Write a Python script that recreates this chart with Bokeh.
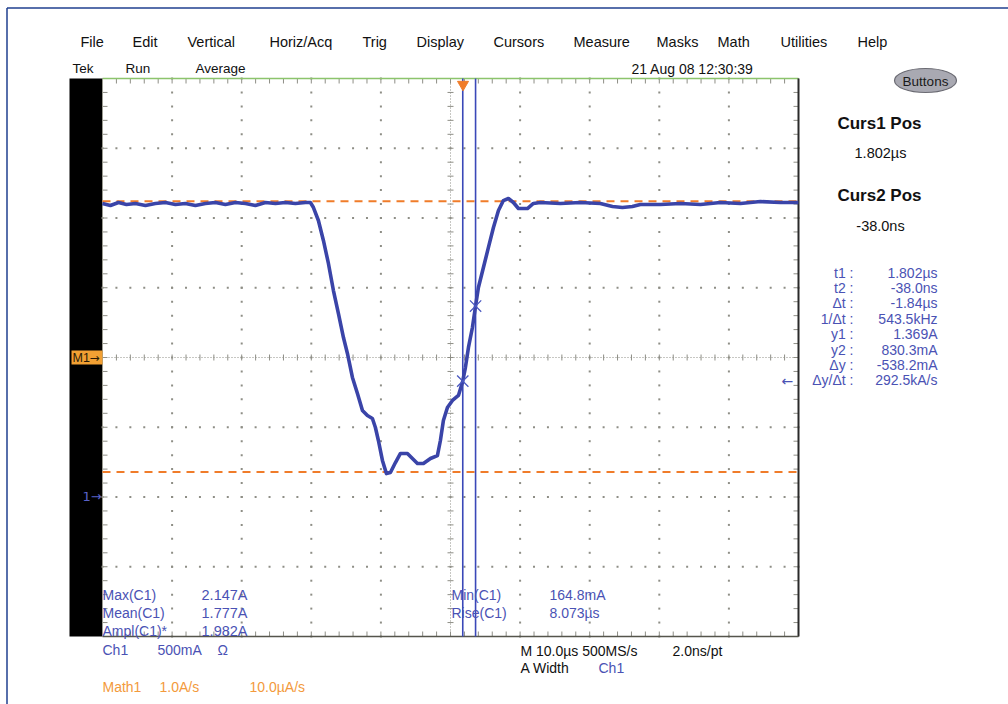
import numpy as np
from bokeh.plotting import figure
from bokeh.models import Range1d
from bokeh.core.properties import value
from bokeh.embed import file_html
from bokeh.resources import INLINE

# ---------------- data ----------------
# waveform: time in microseconds, current in amperes
T_US = [-51.81, -50.66, -49.51, -48.36, -47.07, -45.63, -44.20, -42.76, -41.32, -39.89,
        -38.45, -37.01, -35.57, -34.14, -32.70, -31.26, -29.83, -28.39, -26.95, -25.52,
        -24.08, -22.64, -21.93,
        -21.49, -20.78, -20.06, -19.34, -18.62, -17.90, -17.18, -16.61, -15.89, -15.17,
        -14.45, -13.74, -13.02, -12.59, -12.16, -11.58, -11.01, -10.43, -9.71, -8.99,
        -7.99, -7.27, -6.55, -5.69, -4.68, -3.68, -3.25, -2.82, -2.24, -1.52,
        -0.66, -0.04, 0.34, 0.78, 1.35, 1.80, 2.21, 2.93, 3.65, 4.37,
        5.09, 5.80, 6.52, 7.24, 7.96, 9.25, 10.11, 11.12,
        13.99, 16.86, 19.74, 21.47, 22.90, 24.34, 25.49, 28.36, 31.24, 34.11,
        36.99, 39.86, 42.73, 45.61, 48.19]
I_A = [2.104, 2.090, 2.111, 2.097, 2.104, 2.090, 2.104, 2.111, 2.097, 2.104,
       2.090, 2.104, 2.111, 2.097, 2.111, 2.104, 2.090, 2.111, 2.104, 2.111,
       2.104, 2.111, 2.111,
       2.075, 1.982, 1.839, 1.674, 1.480, 1.315, 1.143, 1.029, 0.857, 0.742,
       0.620, 0.584, 0.563, 0.498, 0.405, 0.262, 0.168, 0.176, 0.247, 0.312,
       0.312, 0.276, 0.240, 0.240, 0.276, 0.297, 0.405, 0.548, 0.642, 0.692,
       0.728, 0.830, 0.928, 1.072, 1.215, 1.369, 1.502, 1.645, 1.789, 1.932,
       2.054, 2.125, 2.140, 2.111, 2.068, 2.068, 2.104, 2.111,
       2.104, 2.111, 2.104, 2.082, 2.075, 2.082, 2.097, 2.097, 2.104, 2.097,
       2.111, 2.104, 2.118, 2.111, 2.111]

CURSOR_T = [1.802, -0.038]      # Curs1, Curs2 positions (us)
CURSOR_I = [1.369, 0.8303]      # y1, y2 (A)
LEVELS_A = [2.12, 0.18]         # orange dashed reference levels
TRIG_T = 0.0

MENU = ["File", "Edit", "Vertical", "Horiz/Acq", "Trig", "Display", "Cursors",
        "Measure", "Masks", "Math", "Utilities", "Help"]
READ_LABELS = ["t1 :", "t2 :", "Δt :", "1/Δt :", "y1 :", "y2 :", "Δy :", "Δy/Δt :"]
READ_VALUES = ["1.802µs", "-38.0ns", "-1.84µs", "543.5kHz", "1.369A", "830.3mA",
               "-538.2mA", "292.5kA/s"]
MEAS1_LABELS = ["Max(C1)", "Mean(C1)", "Ampl(C1)*"]
MEAS1_VALUES = ["2.147A", "1.777A", "1.982A"]
MEAS2_LABELS = ["Min(C1)", "Rise(C1)"]
MEAS2_VALUES = ["164.8mA", "8.073µs"]

# ---------------- scope screen geometry ----------------
W, H = 1008, 704
OFF = 0
GX0, GX1, GY0, GY1 = 102, 798, 78, 636          # graticule in page pixels
T_LEFT, T_DIV, NX = -51.8, 10.0, 10
A_BOT, A_DIV, NY = -1.0, 0.5, 8
tpp = T_DIV * NX / (GX1 - GX0)
app = A_DIV * NY / (GY1 - GY0)
t_start = T_LEFT - (GX0 - OFF) * tpp
t_end = T_LEFT + (OFF + W - GX0) * tpp
a_start = A_BOT - (OFF + H - GY1) * app
a_end = A_BOT + (GY1 - OFF) * app

p = figure(width=W, height=H, output_backend="svg", toolbar_location=None,
           x_range=Range1d(t_start, t_end), y_range=Range1d(a_start, a_end),
           x_axis_location=None, y_axis_location=None, min_border=0,
           background_fill_color="white", border_fill_color="white")
p.outline_line_color = None
p.grid.visible = False
p.extra_x_ranges = {"px": Range1d(OFF, OFF + W)}
p.extra_y_ranges = {"px": Range1d(OFF + H, OFF)}
PX = dict(x_range_name="px", y_range_name="px")

BLUE_T = "#4a52b4"
ORANGE = "#f07c2a"
GREY = "#8e8e86"

# window border
p.segment(x0=[6.5, 6.5], y0=[7.5, 7.5], x1=[W, 6.5], y1=[7.5, H],
          line_color="#1f3f8f", line_width=1.5, **PX)

# black strip left of graticule
p.quad(left=[69], right=[GX0], top=[GY0], bottom=[GY1], fill_color="black",
       line_color=None, **PX)

# ---------------- graticule ----------------
t_right = T_LEFT + NX * T_DIV
a_top = A_BOT + NY * A_DIV
major_t = T_LEFT + T_DIV * np.arange(1, NX)
major_a = A_BOT + A_DIV * np.arange(1, NY)
minor_t = T_LEFT + (T_DIV / 5) * np.arange(0, 5 * NX + 1)
minor_a = A_BOT + (A_DIV / 5) * np.arange(0, 5 * NY + 1)
ct = T_LEFT + T_DIV * NX / 2
ca = A_BOT + A_DIV * NY / 2

dx, dy = [], []
for t in major_t:
    if abs(t - ct) > 1e-6:
        dx += [t] * len(minor_a); dy += list(minor_a)
for a in major_a:
    if abs(a - ca) > 1e-6:
        dx += list(minor_t); dy += [a] * len(minor_t)
p.scatter(dx, dy, marker="square", size=2, fill_color=GREY, line_color=None)

# centre cross: dotted lines + ticks
p.segment(x0=[ct, T_LEFT], y0=[A_BOT, ca], x1=[ct, t_right], y1=[a_top, ca],
          line_color=GREY, line_width=1, line_dash="1 2")
tk_t = 3 * tpp
tk_a = 3 * app
p.segment(x0=[ct - tk_t] * len(minor_a), y0=list(minor_a), x1=[ct + tk_t] * len(minor_a),
          y1=list(minor_a), line_color=GREY, line_width=1)
p.segment(x0=list(minor_t), y0=[ca - tk_a] * len(minor_t), x1=list(minor_t),
          y1=[ca + tk_a] * len(minor_t), line_color=GREY, line_width=1)
# edge ticks
e_t = 5 * tpp
e_a = 5 * app
p.segment(x0=list(minor_t), y0=[a_top] * len(minor_t), x1=list(minor_t),
          y1=[a_top - e_a] * len(minor_t), line_color=GREY, line_width=1)
p.segment(x0=list(minor_t), y0=[A_BOT] * len(minor_t), x1=list(minor_t),
          y1=[A_BOT + e_a] * len(minor_t), line_color=GREY, line_width=1)
p.segment(x0=[t_right] * len(minor_a), y0=list(minor_a), x1=[t_right - e_t] * len(minor_a),
          y1=list(minor_a), line_color=GREY, line_width=1)
p.segment(x0=[T_LEFT] * len(minor_a), y0=list(minor_a), x1=[T_LEFT + e_t] * len(minor_a),
          y1=list(minor_a), line_color=GREY, line_width=1)
# graticule edges
p.segment(x0=[T_LEFT], y0=[a_top], x1=[t_right], y1=[a_top], line_color="#8cc46c", line_width=1.5)
p.segment(x0=[t_right], y0=[A_BOT], x1=[t_right], y1=[a_top], line_color="#2a2a2a", line_width=2)
p.segment(x0=[T_LEFT], y0=[A_BOT], x1=[t_right], y1=[A_BOT], line_color="#55554c", line_width=1.5)
p.segment(x0=[T_LEFT], y0=[A_BOT], x1=[T_LEFT], y1=[a_top], line_color="#9a9a90", line_width=1)

# reference levels
p.segment(x0=[T_LEFT] * 2, y0=LEVELS_A, x1=[t_right] * 2, y1=LEVELS_A,
          line_color=ORANGE, line_width=2, line_dash="8 6")

# cursors
p.segment(x0=CURSOR_T, y0=[A_BOT] * 2, x1=CURSOR_T, y1=[a_top] * 2,
          line_color="#3a48b8", line_width=1.6)

# waveform
p.line(T_US, I_A, line_color="#3a44a8", line_width=3.6, line_join="round")

# cursor crossings
p.scatter(CURSOR_T, CURSOR_I, marker="x", size=16, line_color="#4a58c0", line_width=1.3)

# trigger marker
p.scatter(x=[TRIG_T], y=[84], y_range_name="px", marker="inverted_triangle", size=11,
          fill_color=ORANGE, line_color=ORANGE)

# ---------------- texts ----------------
FONT = "Liberation Sans"


def txt(xs, ys, texts, color, size, align="left", bold=False, font=FONT):
    p.text(x=xs, y=ys, text=texts, text_color=color, text_font_size=f"{size}px",
           text_align=align, text_baseline="middle", text_font=value(font),
           text_font_style="bold" if bold else "normal", **PX)


MENU_X = [80, 132, 187, 269, 362, 416, 493, 573, 656, 717, 780, 857]
txt(MENU_X, [41] * len(MENU), MENU, "#111111", 14.5)
txt([72, 125, 195], [68] * 3, ["Tek", "Run", "Average"], "#111111", 13.5)
txt([692], [68], ["21 Aug 08 12:30:39"], "#111111", 14, align="center")

# Buttons
p.ellipse(x=[925], y=[80], width=[62], height=[24], fill_color="#a9a9b2",
          line_color="#6a6a72", line_width=1.2, **PX)
txt([925], [81], ["Buttons"], "#1a1a1a", 13.5, align="center")

# right panel
txt([879, 879], [123, 195], ["Curs1 Pos", "Curs2 Pos"], "#111111", 17, align="center", bold=True)
txt([880, 880], [152, 225], ["1.802µs", "-38.0ns"], "#111111", 14.5, align="center")
ry = [272 + 15.4 * i for i in range(len(READ_LABELS))]
txt([853] * len(READ_LABELS), ry, READ_LABELS, BLUE_T, 14, align="right")
txt([937] * len(READ_VALUES), ry, READ_VALUES, BLUE_T, 14, align="right")
txt([781], [380], ["←"], BLUE_T, 14, font="DejaVu Sans")

# measurements inside graticule
my = [594, 612, 630]
txt([102] * 3, my, MEAS1_LABELS, BLUE_T, 14)
txt([247] * 3, my, MEAS1_VALUES, BLUE_T, 14.5, align="right")
txt([451] * 2, my[:2], MEAS2_LABELS, BLUE_T, 14)
txt([549] * 2, my[:2], MEAS2_VALUES, BLUE_T, 14)

# channel markers
p.quad(left=[71], right=[GX0], top=[350], bottom=[364], fill_color="#f2a033",
       line_color=None, **PX)
txt([72], [357], ["M1"], "#2a1a05", 12.5)
txt([89], [357], ["→"], "#2a1a05", 12, font="DejaVu Sans")
txt([82], [496], ["1→"], "#5a62c8", 13, font="DejaVu Sans")

# bottom status
txt([102, 157, 217], [649] * 3, ["Ch1", "500mA", "Ω"], BLUE_T, 14)
txt([102, 159, 249], [686] * 3, ["Math1", "1.0A/s", "10.0µA/s"], "#f39a3c", 14)
txt([520, 672], [650, 650], ["M 10.0µs 500MS/s", "2.0ns/pt"], "#111111", 14)
txt([520], [667], ["A  Width"], "#111111", 14)
txt([598], [667], ["Ch1"], BLUE_T, 14)

open("out.html", "w").write(file_html(p, INLINE))
